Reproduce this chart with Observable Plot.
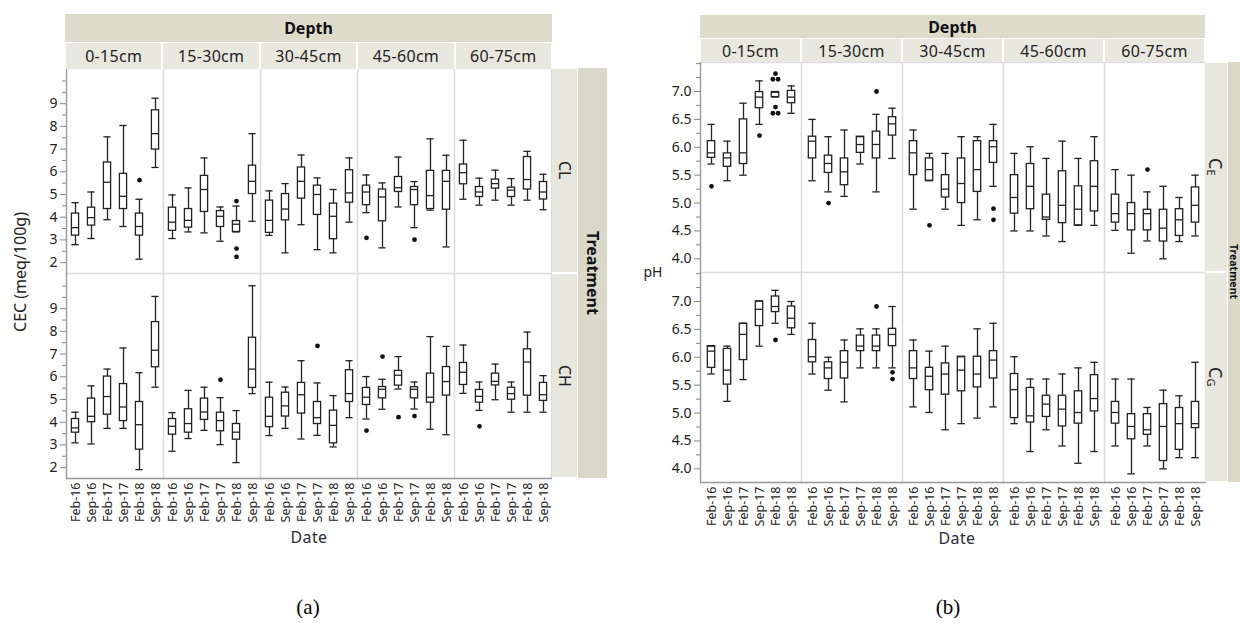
<!DOCTYPE html>
<html><head><meta charset="utf-8">
<script src="https://cdn.jsdelivr.net/npm/d3@7"></script>
<script src="https://cdn.jsdelivr.net/npm/@observablehq/plot@0.6"></script>
<style>
body{margin:0;background:#fff;}
#root{position:relative;width:1240px;height:623px;overflow:hidden;background:#fff;font-family:"Noto Sans",sans-serif;color:#222;}
.abs{position:absolute;box-sizing:border-box;}
.band{background:#dddbcc;display:flex;align-items:center;justify-content:center;font-weight:bold;font-size:16px;color:#111;}
.cell{background:#e9e8df;display:flex;align-items:center;justify-content:center;border:1px solid #fff;border-bottom:none;font-size:16px;color:#222;letter-spacing:0.3px;}
.strip{background:#e8e7de;display:flex;align-items:center;justify-content:center;writing-mode:vertical-rl;border:1px solid #fff;border-left:none;font-size:16px;color:#222;}
.strip2{background:#dad8c9;display:flex;align-items:center;justify-content:center;writing-mode:vertical-rl;font-weight:bold;font-size:16px;color:#111;}
.lbl{position:absolute;white-space:nowrap;transform:translate(-50%,-50%);}
</style>
</head><body><div id="root"></div>
<script>
// ---------- shared categories ----------
const dates = ["Feb-16","Sep-16","Feb-17","Sep-17","Feb-18","Sep-18"];
const depths = ["0-15cm","15-30cm","30-45cm","45-60cm","60-75cm"];
const cecTreatments = ["CL","CH"];
const phTreatments = ["CE","CG"];

// ---------- (a) CEC: per depth, per date: [low whisker, Q1, median, Q3, high whisker] ----------
const cecCL = [
  [[2.79,3.19,3.54,4.16,4.64],[3.06,3.63,3.98,4.42,5.11],[3.89,4.36,5.54,6.41,7.54],[3.59,4.36,4.92,5.91,8.04],[2.15,3.19,3.59,4.16,4.79],[6.19,6.98,7.68,8.71,9.24]],
  [[3.06,3.40,3.78,4.42,4.98],[3.35,3.54,3.86,4.36,5.29],[3.31,4.23,5.22,5.82,6.61],[2.94,3.57,4.04,4.27,4.45],[3.35,3.35,3.69,3.83,4.49],[3.82,5.02,5.58,6.27,7.68]],
  [[3.20,3.31,3.86,4.73,5.16],[2.43,3.86,4.36,5.02,5.48],[3.67,4.82,5.58,6.19,6.74],[2.57,4.10,5.00,5.39,5.73],[2.43,3.03,4.04,4.60,5.22],[3.78,4.64,5.07,6.07,6.61]],
  [[4.20,4.53,5.11,5.39,5.86],[2.65,3.82,4.89,5.22,5.51],[4.45,5.11,5.30,5.77,6.65],[3.54,4.53,5.22,5.33,5.57],[4.31,4.36,4.95,6.04,7.45],[2.69,4.33,5.58,6.04,6.73]],
  [[4.79,5.45,5.96,6.32,7.39],[4.53,4.89,5.11,5.33,5.72],[4.75,5.26,5.48,5.66,6.07],[4.53,4.89,5.19,5.30,5.70],[4.75,5.22,5.66,6.65,6.90],[4.33,4.78,5.11,5.55,5.89]]
];
const cecCH = [
  [[3.09,3.54,3.75,4.14,4.44],[3.04,4.00,4.26,5.04,5.60],[3.73,4.33,5.13,6.01,6.34],[3.73,4.05,4.67,5.68,7.27],[1.91,2.79,3.89,4.89,6.18],[5.54,6.42,7.17,8.41,9.54]],
  [[2.72,3.45,3.82,4.14,4.42],[3.28,3.54,3.94,4.57,5.40],[3.64,4.10,4.45,5.04,5.54],[3.01,3.60,4.07,4.42,5.08],[2.22,3.23,3.56,3.92,4.51],[5.26,5.51,6.34,7.72,10.01]],
  [[3.41,3.78,4.26,5.08,5.76],[3.73,4.25,4.72,5.30,5.55],[3.26,4.38,5.21,5.73,6.71],[3.42,3.92,4.20,4.89,5.73],[2.91,3.07,3.86,4.51,5.17],[4.20,4.89,5.26,6.29,6.71]],
  [[4.14,4.76,5.10,5.51,6.01],[4.57,5.05,5.45,5.55,5.89],[5.46,5.61,6.07,6.26,6.89],[4.58,5.05,5.45,5.54,5.77],[3.69,4.86,5.10,6.14,7.77],[3.45,5.17,5.79,6.43,7.34]],
  [[5.27,5.64,6.20,6.61,7.40],[4.52,4.86,5.14,5.42,5.77],[4.99,5.62,5.80,6.14,6.56],[4.44,4.99,5.26,5.52,5.77],[4.44,5.17,6.65,7.21,7.97],[4.44,4.94,5.21,5.73,6.05]]
];
// outliers: [treatment, depth, date, value, side(-1 left, 0 centre, 1 right)]
const cecOutliers = [
  ["CL","0-15cm","Feb-18",5.63,0],
  ["CL","15-30cm","Feb-18",4.71,0],["CL","15-30cm","Feb-18",2.62,0],["CL","15-30cm","Feb-18",2.25,0],
  ["CL","45-60cm","Feb-16",3.09,0],["CL","45-60cm","Sep-17",3.01,0],
  ["CH","15-30cm","Sep-17",5.87,0],["CH","30-45cm","Sep-17",7.36,0],
  ["CH","45-60cm","Feb-16",3.63,0],["CH","45-60cm","Sep-16",6.89,0],["CH","45-60cm","Feb-17",4.22,0],["CH","45-60cm","Sep-17",4.27,0],
  ["CH","60-75cm","Sep-16",3.82,0]
];
const cecMajorTicks = [2,3,4,5,6,7,8,9];
const cecMinorTicks = [2.5,3.5,4.5,5.5,6.5,7.5,8.5,9.5,10];

// ---------- (b) pH ----------
const phCE = [
  [[5.70,5.81,5.90,6.11,6.41],[5.40,5.65,5.81,5.89,6.11],[5.50,5.70,5.90,6.50,6.79],[6.41,6.70,6.90,6.99,7.19],[6.90,6.90,6.99,6.99,6.99],[6.61,6.79,6.90,7.01,7.10]],
  [[5.40,5.80,6.11,6.19,6.50],[5.20,5.54,5.71,5.85,6.19],[5.12,5.32,5.56,5.80,6.31],[5.70,5.90,6.05,6.19,6.19],[5.20,5.80,6.05,6.28,6.59],[5.80,6.21,6.42,6.54,6.70]],
  [[4.89,5.50,5.90,6.11,6.31],[5.40,5.40,5.60,5.80,5.89],[4.89,5.10,5.25,5.50,5.89],[4.60,5.00,5.35,5.80,6.19],[4.70,5.20,5.60,6.11,6.19],[5.30,5.72,6.01,6.11,6.41]],
  [[4.50,4.81,5.10,5.50,5.89],[4.50,4.89,5.30,5.70,6.01],[4.41,4.70,4.75,5.15,5.80],[4.31,4.64,4.96,5.57,6.11],[4.60,4.60,4.89,5.30,5.80],[4.60,4.85,5.30,5.75,6.19]],
  [[4.51,4.65,4.81,5.15,5.60],[4.10,4.51,4.81,5.00,5.50],[4.32,4.51,4.81,4.88,5.20],[4.00,4.31,4.55,4.88,5.30],[4.31,4.41,4.70,4.89,5.10],[4.41,4.65,4.96,5.28,5.50]]
];
const phCG = [
  [[5.70,5.81,6.11,6.20,6.20],[5.21,5.51,5.77,6.15,6.20],[5.60,5.95,6.41,6.60,6.61],[6.20,6.56,6.86,7.00,7.01],[6.61,6.81,6.91,7.09,7.20],[6.41,6.52,6.70,6.91,7.00]],
  [[5.70,5.91,6.01,6.31,6.61],[5.41,5.61,5.81,5.91,6.00],[5.20,5.62,5.91,6.11,6.31],[5.81,6.11,6.20,6.39,6.51],[5.81,6.11,6.20,6.39,6.51],[5.81,6.20,6.41,6.51,6.91]],
  [[5.11,5.61,5.81,6.11,6.31],[5.01,5.41,5.66,5.81,6.11],[4.70,5.33,5.70,5.89,6.20],[4.81,5.39,5.77,6.01,6.01],[4.91,5.46,5.70,6.01,6.51],[5.11,5.62,5.95,6.11,6.61]],
  [[4.81,4.91,5.42,5.70,6.01],[4.31,4.83,4.95,5.45,5.61],[4.70,4.93,5.16,5.31,5.61],[4.41,4.76,5.07,5.31,5.70],[4.10,4.81,5.01,5.39,5.81],[4.31,5.03,5.26,5.68,5.91]],
  [[4.41,4.81,5.01,5.20,5.61],[3.91,4.53,4.76,4.98,5.61],[4.41,4.61,4.70,4.98,5.10],[4.00,4.14,4.76,5.16,5.41],[4.20,4.34,4.81,5.09,5.31],[4.20,4.73,4.81,5.20,5.91]]
];
const phOutliers = [
  ["CE","0-15cm","Feb-16",5.30,0],["CE","0-15cm","Sep-17",6.21,0],
  ["CE","0-15cm","Feb-18",7.32,0],["CE","0-15cm","Feb-18",7.22,-1],["CE","0-15cm","Feb-18",7.22,1],
  ["CE","0-15cm","Feb-18",6.72,0],["CE","0-15cm","Feb-18",6.61,-1],["CE","0-15cm","Feb-18",6.61,1],
  ["CE","15-30cm","Sep-16",5.00,0],["CE","15-30cm","Feb-18",7.00,0],
  ["CE","30-45cm","Sep-16",4.60,0],["CE","30-45cm","Sep-18",4.90,0],["CE","30-45cm","Sep-18",4.70,0],
  ["CE","60-75cm","Feb-17",5.60,0],
  ["CG","0-15cm","Feb-18",6.31,0],["CG","15-30cm","Feb-18",6.91,0],
  ["CG","15-30cm","Sep-18",5.73,0],["CG","15-30cm","Sep-18",5.61,0]
];
const phMajorTicks = [4,4.5,5,5.5,6,6.5,7];
const phMinorTicks = [4.25,4.75,5.25,5.75,6.25,6.75,7.25,7.5];

// ---------- build tables ----------
function buildRows(trtNames, arrays) {
  const rows = [];
  trtNames.forEach((t, ti) => arrays[ti].forEach((perDepth, di) => perDepth.forEach((s, k) => {
    rows.push({trt: t, depth: depths[di], date: dates[k], lo: s[0], q1: s[1], med: s[2], q3: s[3], hi: s[4]});
  })));
  return rows;
}
function buildOut(list) {
  return list.map(([trt, depth, date, v, side]) => ({trt, depth, date, v, side}));
}

const root = document.getElementById("root");
function div(cls, x, y, w, h, html) {
  const d = document.createElement("div");
  d.className = "abs " + cls;
  Object.assign(d.style, {left: x + "px", top: y + "px", width: w + "px", height: h + "px"});
  if (html != null) d.innerHTML = html;
  root.appendChild(d);
  return d;
}
function label(text, x, y, css) {
  const d = document.createElement("div");
  d.className = "lbl";
  d.style.left = x + "px"; d.style.top = y + "px";
  d.style.cssText += css || "";
  d.innerHTML = text;
  root.appendChild(d);
  return d;
}

function panel(cfg) {
  const rows = buildRows(cfg.trts, cfg.arrays);
  const outs = buildOut(cfg.outliers);
  const inset = cfg.inset;
  const common = {fx: "depth", fy: "trt", x: "date"};
  const marks = [
    Plot.frame({stroke: "#dcdcdc", strokeWidth: 1.3}),
    Plot.ruleX(rows, {...common, y1: "lo", y2: "hi", stroke: "#222", strokeWidth: 1.3}),
    Plot.barY(rows, {...common, y1: "q1", y2: "q3", fill: "white", stroke: "#222", strokeWidth: 1.3, insetLeft: inset, insetRight: inset}),
    Plot.tickY(rows, {...common, y: "med", stroke: "#222", strokeWidth: 1.3, insetLeft: inset, insetRight: inset}),
    Plot.tickY(rows, {...common, y: "hi", stroke: "#222", strokeWidth: 1.3, insetLeft: inset, insetRight: inset}),
    Plot.tickY(rows, {...common, y: "lo", stroke: "#222", strokeWidth: 1.3, insetLeft: inset, insetRight: inset}),
    Plot.dot(outs, {...common, filter: d => d.side === 0, y: "v", r: 2.4, fill: "#111", stroke: "none"}),
    Plot.dot(outs, {...common, filter: d => d.side === -1, y: "v", r: 2.4, fill: "#111", stroke: "none", dx: -2.6}),
    Plot.dot(outs, {...common, filter: d => d.side === 1, y: "v", r: 2.4, fill: "#111", stroke: "none", dx: 2.6}),
    Plot.frame({anchor: "left", stroke: "#9a9a9a", strokeWidth: 1.3, facetAnchor: "left"}),
    Plot.frame({anchor: "bottom", stroke: "#9a9a9a", strokeWidth: 1.3, facetAnchor: "bottom"}),
    Plot.axisY({ticks: cfg.major, tickFormat: cfg.fmt, tickSize: 6, tickPadding: 3, fontSize: 14, stroke: "#888", fill: "#222", label: null}),
    Plot.axisY({ticks: cfg.minor, tickFormat: () => "", tickSize: 4, stroke: "#888", label: null}),
    Plot.axisX({tickRotate: -90, tickSize: 0, tickPadding: 4, fontSize: 12.5, fill: "#222", label: null})
  ];
  const chart = Plot.plot({
    width: cfg.width, height: cfg.height,
    marginLeft: cfg.marginLeft, marginRight: 0, marginTop: 0, marginBottom: cfg.marginBottom,
    facet: {marginTop: 0, marginRight: 0, marginBottom: 0, marginLeft: 0},
    fx: {domain: depths, padding: 0, axis: null},
    fy: {domain: cfg.trts, padding: 0, axis: null},
    x: {domain: dates, padding: 0},
    y: {domain: cfg.yDomain},
    style: {fontFamily: "'Noto Sans', sans-serif", color: "#222", background: "transparent", overflow: "visible", maxWidth: "none"},
    marks
  });
  const holder = div("", cfg.left, cfg.top, cfg.width, cfg.height);
  holder.appendChild(chart);
}

// ---------- panel (a) ----------
panel({trts: cecTreatments, arrays: [cecCL, cecCH], outliers: cecOutliers, major: cecMajorTicks, minor: cecMinorTicks,
  fmt: d3.format("d"), yDomain: [1.52, 10.55], width: 552, height: 475, marginLeft: 65, marginBottom: 65,
  left: 0, top: 68, inset: 4.4});
div("band", 65, 14, 487, 28, "Depth");
depths.forEach((d, i) => div("cell", 65 + i * 97.4, 41.5, 97.4, 27, d));
div("strip", 552, 68, 26, 205, "CL");
div("strip", 552, 273, 26, 205, "CH");
div("strip2", 578, 68, 29, 410, "Treatment");
label("CEC (meq/100g)", 20, 272, "transform:translate(-50%,-50%) rotate(-90deg);font-size:16px;color:#222;");
label("Date", 309, 537, "font-size:16px;color:#2a2a3a;letter-spacing:0.4px;");
label("(a)", 308, 607, "font-family:'Liberation Serif','Times New Roman',serif;font-size:21px;color:#000;");

// ---------- panel (b) ----------
panel({trts: phTreatments, arrays: [phCE, phCG], outliers: phOutliers, major: phMajorTicks, minor: phMinorTicks,
  fmt: d3.format(".1f"), yDomain: [3.755, 7.52], width: 565, height: 485, marginLeft: 60, marginBottom: 65,
  left: 640, top: 62, inset: 4.3});
div("band", 700, 15, 505, 23.5, "Depth");
depths.forEach((d, i) => div("cell", 700 + i * 101, 38, 101, 24, d));
div("strip", 1205, 62, 23, 210, "<span style='font-size:18px'>C<sub style='font-size:11px'>E</sub></span>");
div("strip", 1205, 272, 23, 210, "<span style='font-size:18px'>C<sub style='font-size:11px'>G</sub></span>");
div("strip2", 1228, 62, 12, 420, "<span style='font-size:10.5px;line-height:12px'>Treatment</span>");
label("pH", 653, 271, "font-size:14px;color:#222;");
label("Date", 957, 538, "font-size:16px;color:#2a2a3a;letter-spacing:0.4px;");
label("(b)", 948, 607, "font-family:'Liberation Serif','Times New Roman',serif;font-size:21px;color:#000;");
</script></body></html>
